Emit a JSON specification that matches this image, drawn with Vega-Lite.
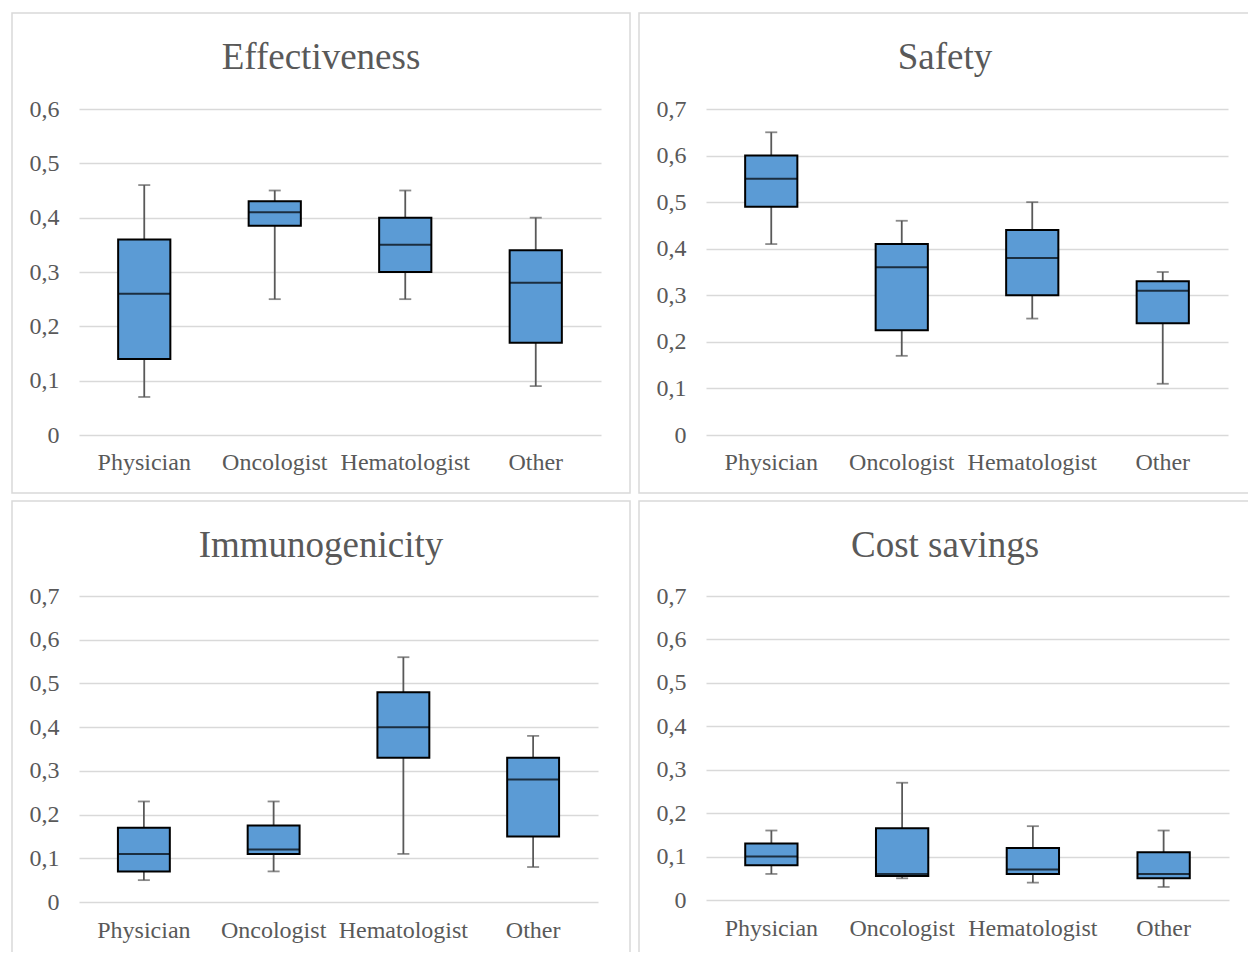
{
  "$schema": "https://vega.github.io/schema/vega-lite/v6.json",
  "padding": {"left": 11, "top": 12, "right": -4, "bottom": -10},
  "autosize": {"type": "pad"},
  "background": "white",
  "datasets": {
    "boxes": [
      {"metric": "Effectiveness", "profession": "Physician", "min": 0.07, "q1": 0.14, "median": 0.26, "q3": 0.36, "max": 0.46},
      {"metric": "Effectiveness", "profession": "Oncologist", "min": 0.25, "q1": 0.385, "median": 0.41, "q3": 0.43, "max": 0.45},
      {"metric": "Effectiveness", "profession": "Hematologist", "min": 0.25, "q1": 0.30, "median": 0.35, "q3": 0.40, "max": 0.45},
      {"metric": "Effectiveness", "profession": "Other", "min": 0.09, "q1": 0.17, "median": 0.28, "q3": 0.34, "max": 0.40},
      {"metric": "Safety", "profession": "Physician", "min": 0.41, "q1": 0.49, "median": 0.55, "q3": 0.60, "max": 0.65},
      {"metric": "Safety", "profession": "Oncologist", "min": 0.17, "q1": 0.225, "median": 0.36, "q3": 0.41, "max": 0.46},
      {"metric": "Safety", "profession": "Hematologist", "min": 0.25, "q1": 0.30, "median": 0.38, "q3": 0.44, "max": 0.50},
      {"metric": "Safety", "profession": "Other", "min": 0.11, "q1": 0.24, "median": 0.31, "q3": 0.33, "max": 0.35},
      {"metric": "Immunogenicity", "profession": "Physician", "min": 0.05, "q1": 0.07, "median": 0.11, "q3": 0.17, "max": 0.23},
      {"metric": "Immunogenicity", "profession": "Oncologist", "min": 0.07, "q1": 0.11, "median": 0.12, "q3": 0.175, "max": 0.23},
      {"metric": "Immunogenicity", "profession": "Hematologist", "min": 0.11, "q1": 0.33, "median": 0.40, "q3": 0.48, "max": 0.56},
      {"metric": "Immunogenicity", "profession": "Other", "min": 0.08, "q1": 0.15, "median": 0.28, "q3": 0.33, "max": 0.38},
      {"metric": "Cost savings", "profession": "Physician", "min": 0.06, "q1": 0.08, "median": 0.10, "q3": 0.13, "max": 0.16},
      {"metric": "Cost savings", "profession": "Oncologist", "min": 0.05, "q1": 0.055, "median": 0.06, "q3": 0.165, "max": 0.27},
      {"metric": "Cost savings", "profession": "Hematologist", "min": 0.04, "q1": 0.06, "median": 0.07, "q3": 0.12, "max": 0.17},
      {"metric": "Cost savings", "profession": "Other", "min": 0.03, "q1": 0.05, "median": 0.06, "q3": 0.11, "max": 0.16}
    ]
  },
  "data": {"name": "boxes"},
  "spacing": 6,
  "vconcat": [
    {
      "spacing": 9,
      "bounds": "flush",
      "hconcat": [
        {
          "width": 618, "height": 480,
          "title": "Effectiveness",
          "transform": [{"filter": "datum.metric === 'Effectiveness'"}],
          "encoding": {
            "x": {"field": "profession", "type": "nominal", "title": null, "sort": ["Physician", "Oncologist", "Hematologist", "Other"],
                  "scale": {"range": [67, 589], "paddingInner": 0.6, "paddingOuter": 0.3},
                  "axis": {"labelPadding": -31}}
          },
          "layer": [
            {"mark": {"type": "rule", "color": "#595959", "strokeWidth": 1.8},
             "encoding": {"y": {"field": "min", "type": "quantitative", "title": null,
                                "scale": {"domain": [0, 0.6], "range": [422, 96], "nice": false},
                                "axis": {"values": [0, 0.1, 0.2, 0.3, 0.4, 0.5, 0.6]}},
                          "y2": {"field": "max"}}},
            {"mark": {"type": "tick", "color": "#595959", "size": 12, "thickness": 1.8}, "encoding": {"y": {"field": "min", "type": "quantitative", "title": null}}},
            {"mark": {"type": "tick", "color": "#595959", "size": 12, "thickness": 1.8}, "encoding": {"y": {"field": "max", "type": "quantitative", "title": null}}},
            {"mark": {"type": "bar", "fill": "#5b9bd5", "stroke": "#000000", "strokeWidth": 2}, "encoding": {"y": {"field": "q1", "type": "quantitative", "title": null}, "y2": {"field": "q3"}}},
            {"mark": {"type": "tick", "color": "#000000", "size": 52, "thickness": 2}, "encoding": {"y": {"field": "median", "type": "quantitative", "title": null}}}
          ]
        },
        {
          "width": 612, "height": 480,
          "title": "Safety",
          "transform": [{"filter": "datum.metric === 'Safety'"}],
          "encoding": {
            "x": {"field": "profession", "type": "nominal", "title": null, "sort": ["Physician", "Oncologist", "Hematologist", "Other"],
                  "scale": {"range": [67, 589], "paddingInner": 0.6, "paddingOuter": 0.3},
                  "axis": {"labelPadding": -31}}
          },
          "layer": [
            {"mark": {"type": "rule", "color": "#595959", "strokeWidth": 1.8},
             "encoding": {"y": {"field": "min", "type": "quantitative", "title": null,
                                "scale": {"domain": [0, 0.7], "range": [422, 96], "nice": false},
                                "axis": {"values": [0, 0.1, 0.2, 0.3, 0.4, 0.5, 0.6, 0.7]}},
                          "y2": {"field": "max"}}},
            {"mark": {"type": "tick", "color": "#595959", "size": 12, "thickness": 1.8}, "encoding": {"y": {"field": "min", "type": "quantitative", "title": null}}},
            {"mark": {"type": "tick", "color": "#595959", "size": 12, "thickness": 1.8}, "encoding": {"y": {"field": "max", "type": "quantitative", "title": null}}},
            {"mark": {"type": "bar", "fill": "#5b9bd5", "stroke": "#000000", "strokeWidth": 2}, "encoding": {"y": {"field": "q1", "type": "quantitative", "title": null}, "y2": {"field": "q3"}}},
            {"mark": {"type": "tick", "color": "#000000", "size": 52, "thickness": 2}, "encoding": {"y": {"field": "median", "type": "quantitative", "title": null}}}
          ]
        }
      ]
    },
    {
      "spacing": 9,
      "bounds": "flush",
      "hconcat": [
        {
          "width": 618, "height": 460,
          "title": "Immunogenicity",
          "transform": [{"filter": "datum.metric === 'Immunogenicity'"}],
          "encoding": {
            "x": {"field": "profession", "type": "nominal", "title": null, "sort": ["Physician", "Oncologist", "Hematologist", "Other"],
                  "scale": {"range": [67, 586], "paddingInner": 0.6, "paddingOuter": 0.3},
                  "axis": {"labelPadding": -31}}
          },
          "layer": [
            {"mark": {"type": "rule", "color": "#595959", "strokeWidth": 1.8},
             "encoding": {"y": {"field": "min", "type": "quantitative", "title": null,
                                "scale": {"domain": [0, 0.7], "range": [401, 95], "nice": false},
                                "axis": {"values": [0, 0.1, 0.2, 0.3, 0.4, 0.5, 0.6, 0.7]}},
                          "y2": {"field": "max"}}},
            {"mark": {"type": "tick", "color": "#595959", "size": 12, "thickness": 1.8}, "encoding": {"y": {"field": "min", "type": "quantitative", "title": null}}},
            {"mark": {"type": "tick", "color": "#595959", "size": 12, "thickness": 1.8}, "encoding": {"y": {"field": "max", "type": "quantitative", "title": null}}},
            {"mark": {"type": "bar", "fill": "#5b9bd5", "stroke": "#000000", "strokeWidth": 2}, "encoding": {"y": {"field": "q1", "type": "quantitative", "title": null}, "y2": {"field": "q3"}}},
            {"mark": {"type": "tick", "color": "#000000", "size": 52, "thickness": 2}, "encoding": {"y": {"field": "median", "type": "quantitative", "title": null}}}
          ]
        },
        {
          "width": 612, "height": 460,
          "title": "Cost savings",
          "transform": [{"filter": "datum.metric === 'Cost savings'"}],
          "encoding": {
            "x": {"field": "profession", "type": "nominal", "title": null, "sort": ["Physician", "Oncologist", "Hematologist", "Other"],
                  "scale": {"range": [67, 590], "paddingInner": 0.6, "paddingOuter": 0.3},
                  "axis": {"labelPadding": -33}}
          },
          "layer": [
            {"mark": {"type": "rule", "color": "#595959", "strokeWidth": 1.8},
             "encoding": {"y": {"field": "min", "type": "quantitative", "title": null,
                                "scale": {"domain": [0, 0.7], "range": [399, 95], "nice": false},
                                "axis": {"values": [0, 0.1, 0.2, 0.3, 0.4, 0.5, 0.6, 0.7]}},
                          "y2": {"field": "max"}}},
            {"mark": {"type": "tick", "color": "#595959", "size": 12, "thickness": 1.8}, "encoding": {"y": {"field": "min", "type": "quantitative", "title": null}}},
            {"mark": {"type": "tick", "color": "#595959", "size": 12, "thickness": 1.8}, "encoding": {"y": {"field": "max", "type": "quantitative", "title": null}}},
            {"mark": {"type": "bar", "fill": "#5b9bd5", "stroke": "#000000", "strokeWidth": 2}, "encoding": {"y": {"field": "q1", "type": "quantitative", "title": null}, "y2": {"field": "q3"}}},
            {"mark": {"type": "tick", "color": "#000000", "size": 52, "thickness": 2}, "encoding": {"y": {"field": "median", "type": "quantitative", "title": null}}}
          ]
        }
      ]
    }
  ],
  "config": {
    "view": {"stroke": "#d9d9d9", "strokeWidth": 1.5},
    "font": "Liberation Serif",
    "axis": {"labelFont": "Liberation Serif", "labelFontSize": 24, "labelColor": "#595959", "domain": false, "ticks": false, "tickSize": 0, "gridColor": "#d9d9d9", "gridWidth": 1.5, "gridOpacity": 1, "labelOverlap": false},
    "axisX": {"labelAngle": 0, "labelBaseline": "middle", "grid": false},
    "axisY": {"labelPadding": -47, "labelAlign": "right", "labelBaseline": "middle", "labelExpr": "replace(format(datum.value, '.1~f'), '.', ',')"},
    "title": {"font": "Liberation Serif", "fontSize": 37, "fontWeight": "normal", "color": "#595959", "anchor": "middle", "offset": -64}
  }
}
